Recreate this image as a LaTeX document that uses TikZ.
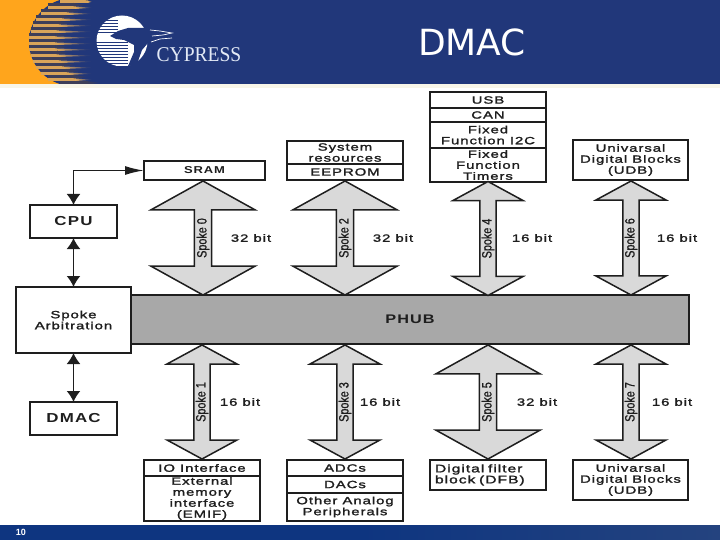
\documentclass[tikz,border=0pt]{standalone}
\usepackage{fontspec}
\usepackage{xcolor}
\usepackage{tikz}
\usetikzlibrary{arrows.meta, shapes.arrows}

\setmainfont{Liberation Sans}
\newfontfamily\boxfont[FakeStretch=1.42, LetterSpace=9, FakeBold=1.8]{Liberation Sans}
\newfontfamily\headfont[FakeStretch=1.3, LetterSpace=9]{Liberation Sans}
\newfontfamily\spokefont[FakeStretch=0.8, FakeBold=1]{Liberation Sans}
\newfontfamily\titlefont{DejaVu Sans}
\newfontfamily\logofont[FakeStretch=0.93]{Liberation Serif}

\definecolor{bandnavy}{HTML}{21377A}
\definecolor{footnavy}{HTML}{0E3580}
\definecolor{footlight}{HTML}{24437F}
\definecolor{sunorange}{HTML}{FFA51C}
\definecolor{suntan}{HTML}{D9A45A}
\definecolor{sundark}{HTML}{3E3E58}
\definecolor{creamline}{HTML}{F8F5E8}
\definecolor{spokegray}{HTML}{D9D9D9}
\definecolor{hubgray}{HTML}{A8A8A8}
\definecolor{logowhite}{HTML}{E3EAF6}
\definecolor{inkgray}{HTML}{1E1E1E}

\tikzset{
  box/.style 2 args={draw, inkgray, text=inkgray, line width=1.5pt, fill=white, inner sep=0pt, outer sep=0pt,
    anchor=north west, align=center, minimum width=#1pt, minimum height=#2pt,
    font=\boxfont\fontsize{10.5}{11}\selectfont},
  headbox/.style={font=\headfont\bfseries\fontsize{#1}{13}\selectfont},
  spokebase/.style={draw, inkgray, text=inkgray, line width=1.5pt, fill=spokegray, shape=double arrow, rotate=90,
    inner sep=0pt, outer sep=0pt, minimum height=114pt, font=\spokefont\fontsize{13.5}{13}\selectfont},
  widespoke/.style={spokebase, minimum width=104pt, double arrow head extend=35pt, double arrow tip angle=122},
  narrowspoke/.style={spokebase, minimum width=70pt, double arrow head extend=23.5pt, double arrow tip angle=123},
  bitlabel/.style={inner sep=0pt, text=inkgray, font=\boxfont\fontsize{10.5}{11}\selectfont},
  busarrow/.style={{Latex[length=11pt,width=14pt]}-{Latex[length=11pt,width=14pt]}, inkgray, line width=1.6pt},
  memarrow/.style={{Latex[length=19pt,width=9pt]}-{Latex[length=11pt,width=14pt]}, inkgray, line width=1.6pt}
}

\begin{document}
\begin{tikzpicture}[x=1pt, y=-1pt]
    \useasboundingbox (0,0) rectangle (720,540);

    % 1. Top band, footer band
    \fill[bandnavy] (0,0) rectangle (720,84);
    \fill[creamline] (0,84) rectangle (720,88);
    \shade[left color=footnavy, right color=footlight, middle color=footnavy] (0,525) rectangle (720,540);

    % 2. Orange sun with fading stripes
    \begin{scope}
      \clip (0,0) rectangle (720,84);
      \fill[sunorange] (0,0) rectangle (73,84);
      \fill[bandnavy] (73,42) circle (44);
      \foreach \yy in {0,6,...,84} {
        \pgfmathsetmacro{\xstart}{73-sqrt(max(44*44-(\yy-42)*(\yy-42),0))}
        \fill[sundark] (\xstart,\yy-3) rectangle (\xstart+26,\yy+0.5);
        \fill[suntan] (\xstart,\yy+0.5) rectangle (\xstart+28,\yy+3);
        \shade[left color=suntan, right color=bandnavy]
          (\xstart+28,\yy+0.5) -- (\xstart+28,\yy+3) -- (92,\yy+1.8) -- cycle;
        \shade[left color=sundark, right color=bandnavy]
          (\xstart+26,\yy-3) -- (\xstart+26,\yy+0.5) -- (\xstart+42,\yy-1) -- cycle;
      }
    \end{scope}

    % 3. Logo: striped disc, tree, name
    \fill[white] (122,41) circle (25.5);
    \foreach \yy in {20,23,...,32} \fill[bandnavy] (92,\yy) rectangle (118,\yy+0.9);
    \foreach \yy in {42,45,...,66} \fill[bandnavy] (92,\yy) rectangle (128,\yy+0.9);
    \fill[bandnavy] (110,36) -- (118,31) -- (128,28) -- (145,28) -- (152,30) -- (150,36) -- (148,43)
      -- (142,50) -- (137,64) -- (128,66) -- (134,52) -- (134,45) -- (124,40) -- (116,39) -- cycle;
    \draw[white, line width=0.7pt] (150,30) -- (160,31) -- (172,33) -- (163,35) -- (152,36);
    \draw[white, line width=0.7pt] (172,38) -- (160,39) -- (151,42);
    \node[text=logowhite, inner sep=0pt, font=\logofont\fontsize{21}{21}\selectfont] (logoname) at (199,55) {CYPRESS};

    % 4. Slide title and page number
    \node[text=white, inner sep=0pt, font=\titlefont\fontsize{36}{36}\selectfont] (slidetitle) at (472,42) {DMAC};
    \node[text=white, inner sep=0pt, font=\fontsize{9}{9}\selectfont\bfseries] (pagenum) at (21,532) {10};

    % 5. Boxes above the bus
    \node[box={121}{19}, headbox=10] (sram) at (144,161) {SRAM};
    \node[box={116}{23}] (sysres) at (287,141) {System\\resources};
    \node[box={116}{16}] (eeprom) at (287,164) {EEPROM};
    \node[box={116}{16}] (usb) at (430,92) {USB};
    \node[box={116}{14}] (can) at (430,108) {CAN};
    \node[box={116}{26}] (ffitwoc) at (430,122) {Fixed\\Function I2C};
    \node[box={116}{34}] (fftimers) at (430,148) {Fixed\\Function\\Timers};
    \node[box={115}{40}] (udbtop) at (573,140) {Univarsal\\Digital Blocks\\(UDB)};

    % 6. Blocks on the left and the bus
    \node[box={87}{33}, headbox=13] (cpu) at (30,205) {CPU};
    \node[box={558}{49}, fill=hubgray, headbox=12.5] (phub) at (131,295) {PHUB};
    \node[box={115}{66}] (arbiter) at (16,287) {Spoke\\Arbitration};
    \node[box={87}{33}, headbox=13] (dmac) at (30,402) {DMAC};

    % 7. Boxes below the bus
    \node[box={116}{16}] (iface) at (144,460) {IO Interface};
    \node[box={116}{45}] (emif) at (144,476) {External\\memory\\interface\\(EMIF)};
    \node[box={116}{16}] (adcs) at (287,460) {ADCs};
    \node[box={116}{17}] (dacs) at (287,476) {DACs};
    \node[box={116}{28}] (analog) at (287,493) {Other Analog\\Peripherals};
    \node[box={116}{30}, align=left, text width=106pt, font=\boxfont\fontsize{11}{11}\selectfont] (dfb) at (430,460) {Digital filter\\block (DFB)};
    \node[box={115}{40}] (udbbot) at (573,460) {Univarsal\\Digital Blocks\\(UDB)};

    % 8. Spokes
    \node[widespoke] (spokezero) at (203,238) {Spoke 0};
    \node[widespoke] (spoketwo) at (345,238) {Spoke 2};
    \node[narrowspoke] (spokefour) at (488,238.5) {Spoke 4};
    \node[narrowspoke] (spokesix) at (631,238) {Spoke 6};
    \node[narrowspoke] (spokeone) at (202,402) {Spoke 1};
    \node[narrowspoke] (spokethree) at (345,402) {Spoke 3};
    \node[widespoke] (spokefive) at (488,402) {Spoke 5};
    \node[narrowspoke] (spokeseven) at (631,402) {Spoke 7};

    % 9. Bus widths
    \node[bitlabel] (widthzero) at (251,238) {32 bit};
    \node[bitlabel] (widthtwo) at (393,238) {32 bit};
    \node[bitlabel] (widthfour) at (532,238) {16 bit};
    \node[bitlabel] (widthsix) at (677,238) {16 bit};
    \node[bitlabel] (widthone) at (240,402) {16 bit};
    \node[bitlabel] (widththree) at (380,402) {16 bit};
    \node[bitlabel] (widthfive) at (537,402) {32 bit};
    \node[bitlabel] (widthseven) at (672,402) {16 bit};

    % 10. Control arrows
    \draw[memarrow] (sram.west) -| (cpu.north);
    \draw[busarrow] (cpu.south) -- (arbiter.north);
    \draw[busarrow] (arbiter.south) -- (dmac.north);

\end{tikzpicture}
\end{document}
